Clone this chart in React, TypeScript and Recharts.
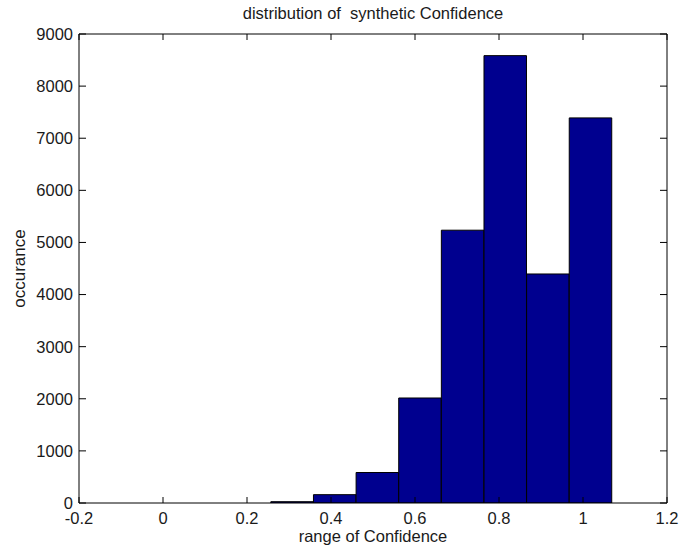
import { BarChart, Bar, XAxis, YAxis } from 'recharts';

// histogram bins (centres) and counts
const binCenters = [0.3075, 0.409, 0.5105, 0.612, 0.7135, 0.815, 0.9165, 1.018];
const counts = [25, 160, 585, 2015, 5235, 8585, 4395, 7390];

const xTicks = [-0.2, 0, 0.2, 0.4, 0.6, 0.8, 1, 1.2];
const yTicks = [0, 1000, 2000, 3000, 4000, 5000, 6000, 7000, 8000, 9000];

// the original title has two spaces before "synthetic"; nbsp keeps both in svg
const title = 'distribution of \u00a0synthetic Confidence';
const xLabel = 'range of Confidence';
const yLabel = 'occurance';

const data = binCenters.map((x, i) => ({ x, y: counts[i] }));

const font = '"Liberation Sans", Arial, sans-serif';
const textColor = '#1a1a1a';
const tickStyle = { fill: textColor, fontSize: 16.5, fontFamily: font };

export default function App() {
  return (
    <div style={{ position: 'absolute', left: 0, top: 0, width: 686, height: 552, background: '#fff' }}>
      <BarChart
        width={686}
        height={552}
        data={data}
        margin={{ top: 33, right: 18, left: 0, bottom: 0 }}
        barGap={0}
      >
        <XAxis
          dataKey="x"
          type="number"
          domain={[-0.2, 1.2]}
          allowDataOverflow
          ticks={xTicks}
          interval={0}
          height={49}
          stroke="#000"
          tickSize={-6}
          tickMargin={15}
          tick={tickStyle}
          label={{ value: xLabel, position: 'insideBottom', offset: 10, fill: textColor, fontSize: 16.5, fontFamily: font }}
        />
        <XAxis
          xAxisId="top"
          dataKey="x"
          type="number"
          orientation="top"
          domain={[-0.2, 1.2]}
          allowDataOverflow
          ticks={xTicks}
          interval={0}
          height={1}
          stroke="#000"
          tickSize={-6}
          tickFormatter={() => ''}
          label={{ value: title, position: 'top', offset: 14, fill: textColor, fontSize: 16.5, fontFamily: font }}
        />
        <YAxis
          type="number"
          domain={[0, 9000]}
          allowDataOverflow
          ticks={yTicks}
          interval={0}
          width={79}
          stroke="#000"
          tickSize={-7}
          tickMargin={13}
          tick={tickStyle}
          label={{ value: yLabel, angle: -90, position: 'center', dx: -20.5, fill: textColor, fontSize: 17, fontFamily: font }}
        />
        <YAxis
          yAxisId="right"
          dataKey="y"
          type="number"
          orientation="right"
          domain={[0, 9000]}
          allowDataOverflow
          ticks={yTicks}
          interval={0}
          width={1}
          stroke="#000"
          tickSize={-7}
          tickFormatter={() => ''}
        />
        <Bar
          dataKey="y"
          fill="#00008F"
          stroke="#000"
          strokeWidth={1}
          barSize={42.5}
          isAnimationActive={false}
        />
      </BarChart>
    </div>
  );
}
